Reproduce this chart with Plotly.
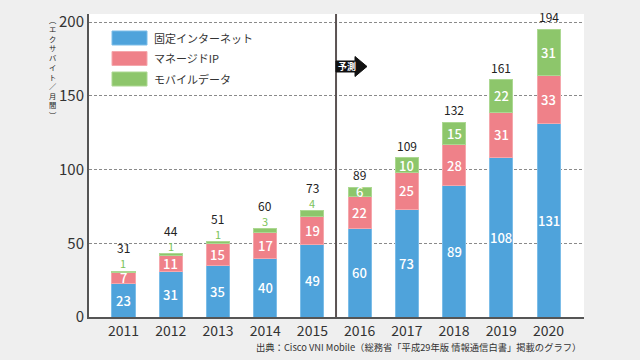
import plotly.graph_objects as go

years = ["2011", "2012", "2013", "2014", "2015", "2016", "2017", "2018", "2019", "2020"]
fixed = [23, 31, 35, 40, 49, 60, 73, 89, 108, 131]
managed = [7, 11, 15, 17, 19, 22, 25, 28, 31, 33]
mobile = [1, 1, 1, 3, 4, 6, 10, 15, 22, 31]
totals = [31, 44, 51, 60, 73, 89, 109, 132, 161, 194]
series_names = ["固定インターネット", "マネージドIP", "モバイルデータ"]
y_ticks = [0, 50, 100, 150, 200]
forecast_label = "予測"
y_title = "︵エクサバイト／月間︶"
source = "出典：Cisco VNI Mobile（総務省「平成29年版 情報通信白書」掲載のグラフ）"

colors = ["#4fa3db", "#ef8189", "#8dc66b"]
edges = ["#7cbde8", "#f5a7ac", "#acd892"]
FONT = "Noto Sans CJK JP"

# plot area in pixels
L, R, T, B = 89, 584, 14, 317
W, H = 640, 360
PW, PH = R - L, B - T

x = list(range(len(years)))
fig = go.Figure()
for name, vals, c, e in zip(series_names, [fixed, managed, mobile], colors, edges):
    fig.add_trace(go.Bar(x=x, y=vals, name=name, width=0.49,
                         marker=dict(color=c, line=dict(color=e, width=1)),
                         showlegend=False, hoverinfo="skip"))

ann = []
for i in x:
    base = 0
    for vals, kind in [(fixed, 0), (managed, 1), (mobile, 2)]:
        v = vals[i]
        if kind == 2 and v < 5:
            ann.append(dict(x=i, y=base + v, text=str(v), showarrow=False, yanchor="bottom",
                            xanchor="center", yshift=-1, borderpad=0,
                            font=dict(family=FONT, size=11, color="#7cc35a")))
        else:
            ann.append(dict(x=i, y=base + v / 2, text=str(v), showarrow=False,
                            xanchor="center", yanchor="middle", borderpad=0,
                            font=dict(family=FONT, size=13, color="white", weight=500)))
        base += v
    top = fixed[i] + managed[i] + mobile[i]
    small = mobile[i] < 5
    ann.append(dict(x=i, y=top, text=str(totals[i]), showarrow=False, yanchor="bottom",
                    xanchor="center", yshift=14 if small else 3, borderpad=0,
                    font=dict(family=FONT, size=12, color="#222")))

def px2paper_x(px):
    return (px - L) / PW

def px2paper_y(py):
    return (B - py) / PH

shapes = []
shapes.append(dict(type="line", xref="x", yref="paper", x0=4.5, x1=4.5, y0=0, y1=1,
                   line=dict(color="#5b5353", width=2)))
pts = [(336, 61), (355, 61), (355, 56.5), (367, 66.5), (355, 76.5), (355, 72), (336, 72)]
path = "M " + " L ".join(f"{px2paper_x(a):.4f},{px2paper_y(b):.4f}" for a, b in pts) + " Z"
shapes.append(dict(type="path", xref="paper", yref="paper", path=path,
                   fillcolor="#111111", line=dict(color="#111111", width=1)))
ann.append(dict(xref="paper", yref="paper", x=px2paper_x(347), y=px2paper_y(66.5),
                xanchor="center", yanchor="middle",
                text=f"<b>{forecast_label}</b>", showarrow=False,
                font=dict(family=FONT, size=9, color="white")))

rows = [38, 58.5, 79]
for name, c, e, cy in zip(series_names, colors, edges, rows):
    shapes.append(dict(type="rect", xref="paper", yref="paper",
                       x0=px2paper_x(112), x1=px2paper_x(147),
                       y0=px2paper_y(cy + 7), y1=px2paper_y(cy - 7),
                       fillcolor=c, line=dict(color=e, width=1)))
    ann.append(dict(xref="paper", yref="paper", x=px2paper_x(152), y=px2paper_y(cy),
                    xanchor="left", yanchor="middle", text=name, showarrow=False,
                    font=dict(family=FONT, size=11, color="#333")))

# vertical y-axis title: one character per line
ann.append(dict(xref="paper", yref="paper", x=px2paper_x(53), y=px2paper_y(13),
                xanchor="center", yanchor="top", text="<br>".join(y_title), showarrow=False,
                font=dict(family=FONT, size=7.3, color="#222")))

ann.append(dict(xref="paper", yref="paper", x=px2paper_x(583), y=px2paper_y(347),
                xanchor="right", yanchor="middle", text=source, showarrow=False,
                font=dict(family=FONT, size=9.3, color="#333")))

fig.update_layout(
    barmode="stack",
    autosize=False,
    width=W, height=H,
    margin=dict(l=L, r=W - R, t=T, b=H - B, pad=0, autoexpand=False),
    paper_bgcolor="#efefef",
    plot_bgcolor="white",
    annotations=ann,
    shapes=shapes,
    font=dict(family=FONT, color="#333"),
    xaxis=dict(range=[-0.73, 9.75], tickmode="array", tickvals=x, ticktext=years,
               showline=True, linecolor="#555", linewidth=2, showgrid=False, automargin=False,
               ticks="", tickfont=dict(family=FONT, size=14, color="#333"), zeroline=False),
    yaxis=dict(range=[0, 205.5], tickmode="array", tickvals=y_ticks, automargin=False,
               showline=True, linecolor="#555", linewidth=2,
               showgrid=True, gridcolor="#8a8a8a", griddash="3px,2px", gridwidth=1,
               ticks="", tickfont=dict(family=FONT, size=15, color="#333"), zeroline=False),
)

fig.write_html("out.html", config={"responsive": False, "displayModeBar": False},
               post_script="document.body.style.margin='0';document.body.style.background='#efefef';")
